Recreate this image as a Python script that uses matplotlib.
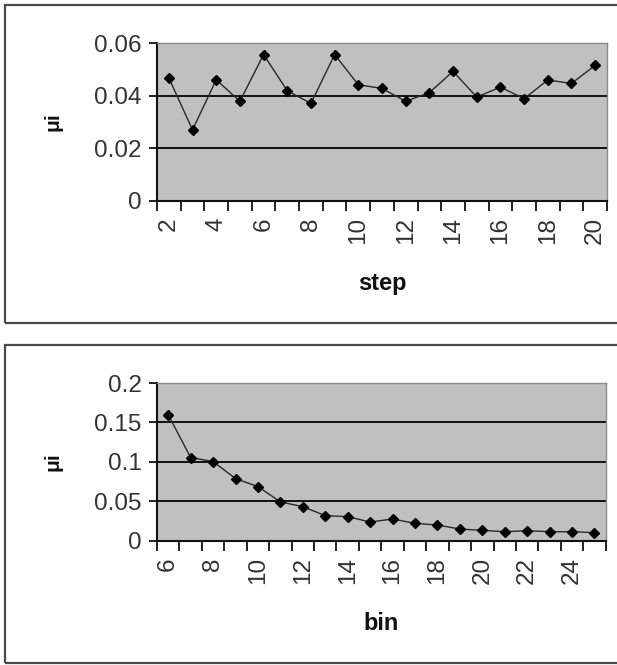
import matplotlib
matplotlib.use("Agg")
import matplotlib.pyplot as plt
from matplotlib.patches import Rectangle

plt.rcParams['font.family'] = ['Liberation Sans', 'DejaVu Sans']

# Top chart data
step = [2, 3, 4, 5, 6, 7, 8, 9, 10, 11, 12, 13, 14, 15, 16, 17, 18, 19, 20]
mu_step = [0.0468, 0.0270, 0.0461, 0.0379, 0.0557, 0.0419, 0.0371, 0.0557, 0.0442,
           0.0428, 0.0379, 0.0412, 0.0493, 0.0395, 0.0433, 0.0389, 0.0460, 0.0447, 0.0516]
step_labels = [2, 4, 6, 8, 10, 12, 14, 16, 18, 20]
yticks_top = [0, 0.02, 0.04, 0.06]
yticklabels_top = ["0", "0.02", "0.04", "0.06"]

# Bottom chart data
bins = [6, 7, 8, 9, 10, 11, 12, 13, 14, 15, 16, 17, 18, 19, 20, 21, 22, 23, 24, 25]
mu_bin = [0.1597, 0.1055, 0.1004, 0.0788, 0.0686, 0.0492, 0.0432, 0.0318, 0.0305, 0.0237,
          0.0275, 0.0220, 0.0199, 0.0148, 0.0131, 0.0114, 0.0127, 0.0114, 0.0114, 0.0102]
bin_labels = [6, 8, 10, 12, 14, 16, 18, 20, 22, 24]
yticks_bot = [0, 0.05, 0.1, 0.15, 0.2]
yticklabels_bot = ["0", "0.05", "0.1", "0.15", "0.2"]

W, H = 617, 665
fig = plt.figure(figsize=(W / 100, H / 100), dpi=100)

# panel frames
for (y0, y1) in [(5, 323), (345, 663)]:
    fig.add_artist(Rectangle((5 / W, 1 - y1 / H), 1.2, (y1 - y0) / H,
                             transform=fig.transFigure, fill=False,
                             edgecolor='#4a4a4a', linewidth=1.6))


def make(ax, x, y, labels, yt, ytl, xlabel):
    ax.set_facecolor('#c0c0c0')
    ax.plot(x, y, color='#282828', linewidth=1.0, marker='D', markersize=4.8,
            markerfacecolor='black', markeredgecolor='black', zorder=3, clip_on=False)
    ax.set_xlim(x[0] - 0.5, x[-1] + 0.5)
    ax.set_ylim(yt[0], yt[-1])
    ax.set_yticks(yt)
    ax.set_yticklabels(ytl, fontsize=17.5, color='#333333')
    for v in yt[1:-1]:
        ax.axhline(v, color='#111111', linewidth=1.4, zorder=1)
    bounds = [v - 0.5 for v in x] + [x[-1] + 0.5]
    ax.set_xticks(bounds)
    ax.set_xticklabels([])
    ax.set_xticks(labels, minor=True)
    ax.set_xticklabels([str(v) for v in labels], minor=True, rotation=90,
                       fontsize=17.5, color='#333333')
    ax.tick_params(axis='x', which='major', direction='out', length=7.5, width=1.3,
                   color='#111111')
    ax.tick_params(axis='x', which='minor', length=0, pad=12)
    ax.tick_params(axis='y', direction='out', length=6, width=1.3, color='#111111', pad=5)
    for s in ['top', 'right']:
        ax.spines[s].set_color('#8a8a8a')
        ax.spines[s].set_linewidth(1.0)
    for s in ['left', 'bottom']:
        ax.spines[s].set_color('#111111')
        ax.spines[s].set_linewidth(1.5)
    ax.set_xlabel(xlabel, fontsize=17, fontweight='bold', color='#111111')
    ax.xaxis.set_label_coords(0.5, -0.525)
    ax.xaxis.label.set_va('center')
    ax.set_ylabel('μi', fontsize=15, fontweight='bold', color='#111111')
    ax.yaxis.set_label_coords(-0.232, 0.5)
    ax.yaxis.label.set_va('center')


ax1 = fig.add_axes([157 / W, 1 - 200.7 / H, 450 / W, 157.4 / H])
make(ax1, step, mu_step, step_labels, yticks_top, yticklabels_top, 'step')

ax2 = fig.add_axes([157 / W, 1 - 540.7 / H, 448.7 / W, 157.7 / H])
make(ax2, bins, mu_bin, bin_labels, yticks_bot, yticklabels_bot, 'bin')

fig.savefig('out.png', dpi=100, facecolor='white')
